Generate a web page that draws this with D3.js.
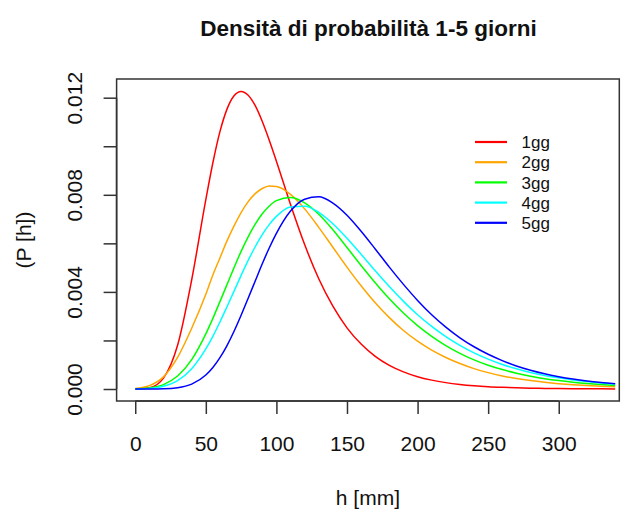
<!DOCTYPE html>
<html>
<head>
<meta charset="utf-8">
<script src="https://cdn.jsdelivr.net/npm/d3@7"></script>
<style>
  html, body { margin: 0; padding: 0; background: #fff; }
  svg { display: block; font-family: "Liberation Sans", Arial, sans-serif; }
</style>
</head>
<body>
<svg id="chart" width="621" height="511"></svg>
<script>
// ---- data ----
const h = [0,10,20,30,40,50,55,60,65,70,75,80,85,90,95,100,110,120,130,140,150,160,170,180,190,200,210,220,230,240,250,260,270,280,290,300,310,320,330,340];

const p1gg = [0.000002,0.00005,0.00045,0.0018,0.0045,0.0078,0.00932,0.0106,0.01153,0.01208,0.01226,0.0121,0.01167,0.01102,0.01024,0.009385,0.0076,0.00595,0.00454,0.00341,0.00252,0.00185,0.001347,0.000977,0.000706,0.000506,0.000366,0.000263,0.000189,0.000136,0.000097,0.00007,0.00005,0.000036,0.000026,0.000018,0.000013,0.0000095,0.0000068,0.0000049];
const p2gg = [0.000026,0.00014,0.0005,0.0013,0.0025,0.0039,0.0047,0.0054,0.0061,0.00672,0.00727,0.00772,0.00805,0.00826,0.00836,0.00834,0.00802,0.00742,0.00666,0.00584,0.00502,0.00425,0.00355,0.00294,0.00241,0.00197,0.0016,0.0013,0.00105,0.00084,0.000675,0.00054,0.000433,0.000346,0.000277,0.000221,0.000176,0.000141,0.000112,0.00009];
const p3gg = [0.000008,0.000046,0.000182,0.000534,0.00121,0.00227,0.00291,0.0036,0.0043,0.005,0.00567,0.00627,0.00679,0.00722,0.00754,0.00776,0.00789,0.00767,0.0072,0.00656,0.00583,0.00509,0.00438,0.00372,0.00313,0.00261,0.00217,0.00179,0.00147,0.0012,0.00098,0.0008,0.00065,0.000527,0.000427,0.000346,0.00028,0.000226,0.000183,0.000148];
const p4gg = [0.000004,0.000019,0.000113,0.000347,0.000836,0.00165,0.00217,0.00276,0.00339,0.00403,0.00468,0.0053,0.00586,0.00636,0.00678,0.00711,0.0075,0.00753,0.00728,0.00681,0.00621,0.00555,0.00487,0.00422,0.00361,0.00306,0.00258,0.00216,0.0018,0.00149,0.00123,0.00101,0.000834,0.000684,0.000561,0.000459,0.000375,0.000307,0.00025,0.000205];
const p5gg = [0,0.000001,0.000009,0.000051,0.0002,0.000574,0.000885,0.00129,0.00179,0.00238,0.00304,0.00374,0.00445,0.00516,0.00582,0.00641,0.00733,0.00782,0.00792,0.00766,0.00716,0.0065,0.00577,0.00502,0.00431,0.00365,0.00306,0.00255,0.00211,0.00174,0.00143,0.00117,0.00095,0.000774,0.000627,0.000509,0.000412,0.000333,0.00027,0.000218];

const seriesNames = ["1gg","2gg","3gg","4gg","5gg"];
const seriesColors = ["#ff0000","#ffa500","#00ff00","#00ffff","#0000ff"];
const seriesValues = [p1gg, p2gg, p3gg, p4gg, p5gg];

const xTicks = [0,50,100,150,200,250,300];
const yTicks = [0,0.002,0.004,0.006,0.008,0.010,0.012];
const yTickLabels = ["0.000","","0.004","","0.008","","0.012"];

const title = "Densità di probabilità 1-5 giorni";
const xLabel = "h [mm]";
const yLabel = "(P [h])";

// ---- layout ----
const box = {left: 116.6, right: 619.3, top: 79, bottom: 401};
const xDomain = [-13.2, 342.9];
const yDomain = [-0.000494, 0.01277];

const svg = d3.select("#chart");
const x = d3.scaleLinear().domain(xDomain).range([box.left, box.right]);
const y = d3.scaleLinear().domain(yDomain).range([box.bottom, box.top]);

svg.append("defs").append("clipPath").attr("id","plotclip")
  .append("rect").attr("x", box.left).attr("y", box.top)
  .attr("width", box.right - box.left).attr("height", box.bottom - box.top);

// curves
const line = d3.line().x(d => x(d[0])).y(d => y(d[1])).curve(d3.curveMonotoneX);
const g = svg.append("g").attr("clip-path","url(#plotclip)");
seriesValues.forEach((vals, i) => {
  g.append("path")
    .datum(h.map((hv, j) => [hv, vals[j]]))
    .attr("d", line)
    .attr("fill","none")
    .attr("stroke", seriesColors[i])
    .attr("stroke-width", 1.5)
    .attr("stroke-linejoin","round");
});

// box
svg.append("rect").attr("x", box.left).attr("y", box.top)
  .attr("width", box.right - box.left).attr("height", box.bottom - box.top)
  .attr("fill","none").attr("stroke","#333").attr("stroke-width",1.5);

// x axis
const xAxis = d3.axisBottom(x).tickValues(xTicks).tickSize(13).tickPadding(20).tickFormat(d3.format("d"));
const xg = svg.append("g").attr("transform", `translate(0,${box.bottom})`).call(xAxis);
xg.select(".domain").attr("d", `M${x(xTicks[0])},0H${x(xTicks[xTicks.length-1])}`).attr("stroke","#333").attr("stroke-width",1.5);
xg.selectAll(".tick line").attr("stroke","#333").attr("stroke-width",1.5);
xg.selectAll(".tick text").attr("font-size", 21).attr("fill","#111")
  .attr("font-family","'Liberation Sans', Arial, sans-serif")
  .attr("dy", null).attr("y", 49.5);

// y axis
const yAxis = d3.axisLeft(y).tickValues(yTicks).tickSize(13).tickFormat((d,i) => yTickLabels[i]);
const yg = svg.append("g").attr("transform", `translate(${box.left},0)`).call(yAxis);
yg.select(".domain").attr("d", `M0,${y(yTicks[0])}V${y(yTicks[yTicks.length-1])}`).attr("stroke","#333").attr("stroke-width",1.5);
yg.selectAll(".tick line").attr("stroke","#333").attr("stroke-width",1.5);
yg.selectAll(".tick text")
  .attr("font-size", 21).attr("fill","#111")
  .attr("font-family","'Liberation Sans', Arial, sans-serif")
  .attr("x", null).attr("dy", null)
  .attr("text-anchor","middle")
  .attr("transform", `translate(${82 - box.left},0) rotate(-90)`);

// title and axis labels
svg.append("text").attr("x", 368.5).attr("y", 36)
  .attr("text-anchor","middle").attr("font-size", 22.5).attr("font-weight","bold")
  .attr("fill","#111").text(title);
svg.append("text").attr("x", (box.left + box.right)/2).attr("y", 505)
  .attr("text-anchor","middle").attr("font-size", 21).attr("fill","#111").text(xLabel);
svg.append("text").attr("transform", `translate(31,${(box.top + box.bottom)/2}) rotate(-90)`)
  .attr("text-anchor","middle").attr("font-size", 21).attr("fill","#111").text(yLabel);

// legend
const legend = svg.append("g").attr("transform","translate(475,142)");
seriesNames.forEach((name, i) => {
  const row = legend.append("g").attr("transform", `translate(0,${i*20.2})`);
  row.append("line").attr("x1",0).attr("x2",32).attr("y1",0).attr("y2",0)
    .attr("stroke", seriesColors[i]).attr("stroke-width",2.2);
  row.append("text").attr("x",46.5).attr("y",0).attr("dy","0.36em")
    .attr("font-size",17).attr("fill","#111").text(name);
});
</script>
</body>
</html>
